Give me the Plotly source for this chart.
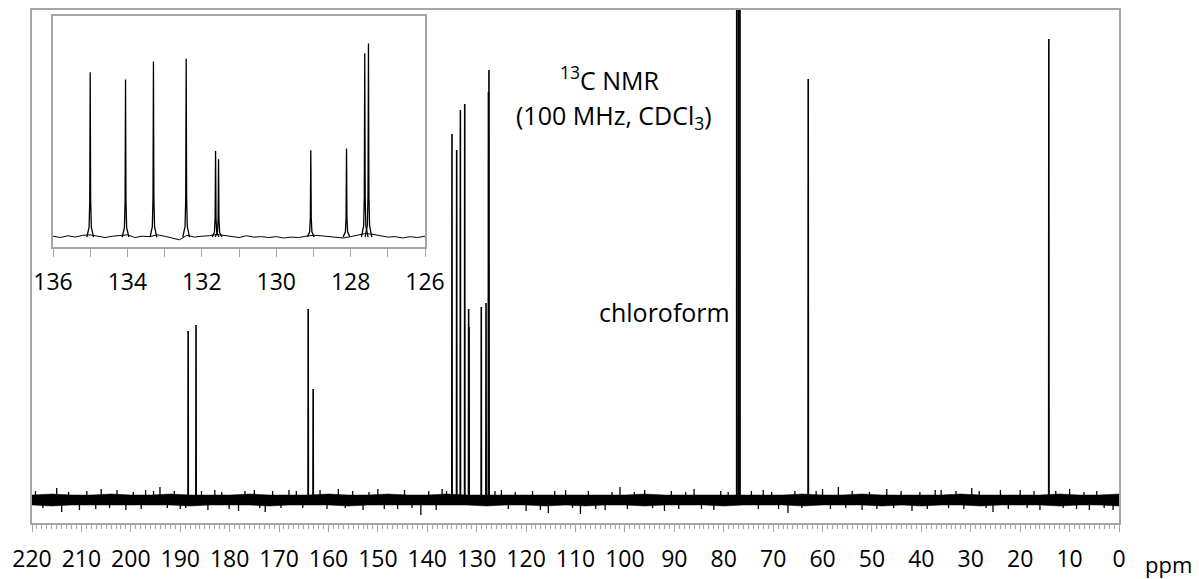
import plotly.graph_objects as go

# ---------------- data ----------------
# peak list: chemical shift (ppm) and intensity (arbitrary units, baseline = 0)
peak_ppm = [188.4, 186.8, 164.1, 163.1,
            135.0, 134.05, 133.3, 132.42, 131.63, 131.55,
            129.07, 128.11, 127.62, 127.52,
            62.9, 14.2]
peak_int = [169, 175, 191, 111,
            366, 350, 390, 396, 191, 173,
            193, 197, 408, 430,
            421, 461]

# solvent (CDCl3 triplet), off scale
solvent_ppm = [77.36, 77.04, 76.72]
solvent_int = [1500, 1500, 1500]

# baseline noise core envelope of the full spectrum
noise_ppm = [220, 216, 212, 208, 204, 200, 196, 192, 188, 184, 180, 176, 172, 168,
             164, 160, 156, 152, 148, 144, 140, 136, 132, 128, 124, 120, 116, 112,
             108, 104, 100, 96, 92, 88, 84, 80, 76, 72, 68, 64, 60, 56, 52, 48,
             44, 40, 36, 32, 28, 24, 20, 16, 12, 8, 4, 0]
noise_hi = [5, 6, 5, 5, 6, 5, 5, 6, 5, 5, 5, 6, 5, 5, 5, 6, 5, 5, 6, 5, 5, 6, 5, 5,
            5, 5, 5, 5, 5, 5, 5, 6, 5, 5, 5, 5, 5, 5, 5, 6, 5, 5, 6, 5, 5, 5, 5, 6,
            5, 5, 5, 5, 6, 5, 5, 6]
noise_lo = [-5, -6, -5, -5, -5, -5, -5, -5, -6, -5, -5, -5, -6, -5, -5, -5, -6, -5,
            -5, -5, -5, -5, -5, -6, -5, -5, -6, -5, -6, -5, -5, -6, -5, -5, -5, -6,
            -5, -5, -5, -6, -5, -5, -5, -6, -5, -6, -5, -5, -6, -5, -5, -5, -6, -5,
            -5, -6]
# noise spikes sticking out of the core
spike_ppm = [219.3, 217.8, 215.0, 214.0, 212.6, 210.4, 208.9, 207.1, 206.0, 204.3,
             202.8, 201.0, 199.5, 197.9, 197.0, 195.4, 194.1, 192.6, 191.2, 190.0,
             188.9, 185.7, 184.4, 183.0, 181.6, 180.1, 178.2, 176.9, 175.0, 173.9,
             172.8, 171.3, 169.6, 168.0, 166.5, 165.2, 161.7, 160.3, 158.0, 156.6,
             155.1, 153.0, 151.8, 150.0, 148.7, 146.0, 144.6, 143.1, 141.3, 139.7,
             138.2, 137.0, 136.1, 126.3, 125.0, 123.6, 122.2, 120.0, 118.7, 117.1,
             115.5, 114.2, 112.0, 110.6, 109.0, 107.4, 105.9, 104.0, 102.6, 101.0,
             99.5, 98.1, 96.0, 94.4, 92.0, 90.6, 89.1, 87.7, 86.0, 84.5,
             82.0, 80.6, 79.1, 74.4, 73.0, 72.0, 70.3, 68.9, 67.0, 65.6,
             64.2, 61.3, 60.0, 58.4, 56.8, 55.3, 54.0, 52.0, 50.5, 49.0,
             47.0, 45.6, 44.1, 41.9, 40.3, 38.8, 37.2, 36.0, 34.5, 33.0,
             31.4, 29.8, 28.3, 26.9, 25.5, 24.0, 22.4, 20.0, 18.6, 17.2,
             16.0, 12.8, 11.3, 10.0, 8.6, 7.1, 6.0, 4.5, 3.0, 1.2]
spike_val = [9, -8, 12, -12, 8, -10, 9, -9, 11, -8,
             10, -10, 8, -9, 10, 9, 13, -8, 9, -9,
             -8, 9, -10, 10, 8, -9, -11, 9, 10, -8,
             -12, 9, -8, 10, 9, -8, 10, -9, 11, -8,
             9, -10, 8, 11, -9, -9, 10, -8, -15, 9,
             -10, 11, 9, 9, 10, -9, 8, -11, 9, -10,
             -13, 9, 10, -8, -14, 9, -9, -10, 8, 13,
             -9, 8, 10, -8, -11, 9, -9, 8, 11, -9,
             -10, 9, 8, 9, -9, 10, 8, -9, -13, 9,
             -8, 9, 11, -9, 13, -8, 9, -10, 8, -9,
             11, -8, 9, -11, 8, -9, 10, 10, -8, 9,
             -9, 12, 9, -8, -12, 10, -9, 10, -8, 9,
             -10, 9, -8, 11, -9, 8, -10, 9, -8, -10]

# expanded region baseline (inset)
inset_ppm = [136.0, 135.8, 135.6, 135.4, 135.2, 135.0, 134.8, 134.6, 134.4, 134.2,
             134.0, 133.8, 133.6, 133.4, 133.2, 133.0, 132.8, 132.6, 132.4, 132.2,
             132.0, 131.8, 131.6, 131.4, 131.2, 131.0, 130.8, 130.6, 130.4, 130.2,
             130.0, 129.8, 129.6, 129.4, 129.2, 129.0, 128.8, 128.6, 128.4, 128.2,
             128.0, 127.8, 127.6, 127.4, 127.2, 127.0, 126.8, 126.6, 126.4, 126.2,
             126.0]
inset_val = [2, -1, 3, 0, 4, 5, 2, -1, 2, 3,
             5, -1, 2, 1, 5, 2, -2, -6, 4, 0,
             2, 3, 6, 4, 2, -1, 3, 0, 1, -1,
             1, -2, 0, -1, 2, 4, 3, 1, -1, -2,
             1, 4, 8, 6, 3, 0, 1, -2, 1, -1,
             2]

main_ticks = [220, 210, 200, 190, 180, 170, 160, 150, 140, 130, 120, 110,
              100, 90, 80, 70, 60, 50, 40, 30, 20, 10, 0]
inset_ticks = [136, 134, 132, 130, 128, 126]

# ---------------- helpers ----------------
GRAY = "#a6a6a6"
FONT = "Open Sans"
HALF_W = 0.035  # drawn half width of a line (ppm), style only


def sticks(pos, hts):
    xs, ys = [], []
    for p, h in zip(pos, hts):
        xs += [p - HALF_W, p, p + HALF_W, None]
        ys += [0, h, 0, None]
    return xs, ys


def shaped(pos, hts):
    # narrow line with a small foot, used in the expansion
    xs, ys = [], []
    for p, h in zip(pos, hts):
        xs += [p - 0.09, p - 0.03, p - 0.012, p, p + 0.012, p + 0.03, p + 0.09, None]
        ys += [0, 0.06 * h, 0.22 * h, h, 0.22 * h, 0.06 * h, 0, None]
    return xs, ys


def spikes(pos, vals):
    xs, ys = [], []
    for p, v in zip(pos, vals):
        xs += [p, p, None]
        ys += [0, v, None]
    return xs, ys


fig = go.Figure()

# ---- main spectrum ----
fig.add_trace(go.Scatter(
    x=noise_ppm + noise_ppm[::-1], y=noise_hi + noise_lo[::-1],
    fill="toself", fillcolor="black", mode="lines",
    line=dict(color="black", width=0.5), hoverinfo="skip",
    xaxis="x", yaxis="y"))
sx, sy = spikes(spike_ppm, spike_val)
fig.add_trace(go.Scatter(x=sx, y=sy, mode="lines",
                         line=dict(color="black", width=1.3),
                         xaxis="x", yaxis="y"))
px, py = sticks(peak_ppm, peak_int)
fig.add_trace(go.Scatter(x=px, y=py, mode="lines",
                         line=dict(color="black", width=1.6),
                         xaxis="x", yaxis="y"))
cx, cy = sticks(solvent_ppm, solvent_int)
fig.add_trace(go.Scatter(x=cx, y=cy, mode="lines",
                         line=dict(color="black", width=1.5),
                         xaxis="x", yaxis="y"))

# ---- inset (expansion 136-126 ppm) ----
fig.add_trace(go.Scatter(x=inset_ppm, y=inset_val, mode="lines",
                         line=dict(color="black", width=1),
                         xaxis="x2", yaxis="y2"))
ix, iy = shaped(peak_ppm, peak_int)
fig.add_trace(go.Scatter(x=ix, y=iy, mode="lines",
                         line=dict(color="black", width=1.3),
                         xaxis="x2", yaxis="y2"))

W, H = 1199, 579
# target plot area in page pixels: x 32..1119, y 10..523
L, T = 32, 10
R, B = W - 1119, H - 523
pw, ph = W - L - R, H - T - B


def px2x(x):
    return (x - L) / pw


def px2y(y):
    return (H - B - y) / ph


fig.update_layout(
    width=W, height=H,
    margin=dict(l=L, r=R, t=T, b=B, autoexpand=False),
    paper_bgcolor="white", plot_bgcolor="white",
    showlegend=False,
    font=dict(family=FONT, color="black"),
    xaxis=dict(range=[220, 0], tickvals=main_ticks, ticks="outside", ticklen=7,
               tickcolor=GRAY, tickwidth=1, automargin=False,
               minor=dict(dtick=1, tick0=0, ticks="outside", ticklen=4,
                          tickcolor=GRAY, tickwidth=1),
               showline=True, linecolor=GRAY, linewidth=1.5, mirror=True,
               showgrid=False, zeroline=False,
               tickfont=dict(family=FONT, size=23, color="black"),
               ticklabelstandoff=8),
    yaxis=dict(range=[-23, 490], showticklabels=False, ticks="", automargin=False,
               showline=True, linecolor=GRAY, linewidth=1.5, mirror=True,
               showgrid=False, zeroline=False),
    xaxis2=dict(domain=[px2x(53), px2x(425)], anchor="y2", range=[136, 126],
                tickvals=inset_ticks, ticks="outside", ticklen=8,
                tickcolor=GRAY, tickwidth=1, automargin=False,
                minor=dict(dtick=1, tick0=0, ticks="outside", ticklen=8,
                           tickcolor=GRAY, tickwidth=1),
                showline=True, linecolor=GRAY, linewidth=1.5, mirror=True,
                showgrid=False, zeroline=False,
                tickfont=dict(family=FONT, size=23, color="black"),
                ticklabelstandoff=6),
    yaxis2=dict(domain=[px2y(247), px2y(16)], anchor="x2", range=[-22, 491],
                showticklabels=False, ticks="", automargin=False,
                showline=True, linecolor=GRAY, linewidth=1.5, mirror=True,
                showgrid=False, zeroline=False),
    annotations=[
        dict(text="<sup>13</sup>C NMR", x=px2x(610), y=px2y(78),
             xref="paper", yref="paper", showarrow=False,
             xanchor="center", yanchor="middle",
             font=dict(family=FONT, size=25, color="black")),
        dict(text="(100 MHz, CDCl<sub>3</sub>)", x=px2x(614), y=px2y(116),
             xref="paper", yref="paper", showarrow=False,
             xanchor="center", yanchor="middle",
             font=dict(family=FONT, size=25, color="black")),
        dict(text="chloroform", x=px2x(732), y=px2y(312),
             xref="paper", yref="paper", showarrow=False,
             xanchor="right", yanchor="middle",
             font=dict(family=FONT, size=25, color="black")),
        dict(text="ppm", x=px2x(1168), y=px2y(564),
             xref="paper", yref="paper", showarrow=False,
             xanchor="center", yanchor="middle",
             font=dict(family=FONT, size=22, color="black")),
    ],
)

# remove the default 8 px page margin so the 1199x579 figure fills the window
fig.write_html("out.html",
               config={"displayModeBar": False},
               post_script="document.body.style.margin='0px';"
                           "document.body.style.overflow='hidden';")
